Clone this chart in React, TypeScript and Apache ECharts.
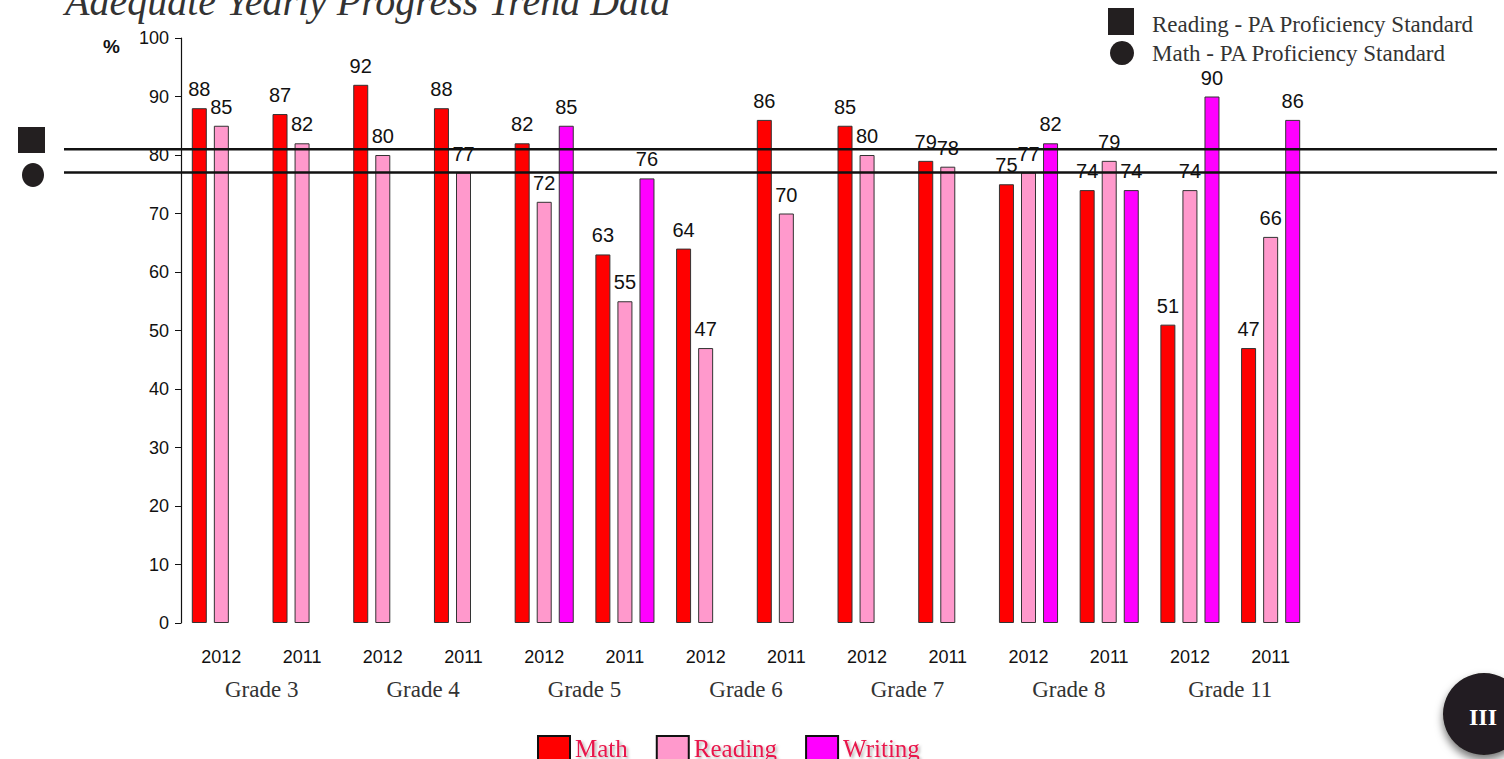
import React, { useEffect, useRef } from "react";
import * as echarts from "echarts";

const years = ["2012", "2011", "2012", "2011", "2012", "2011", "2012", "2011", "2012", "2011", "2012", "2011", "2012", "2011"];
const grades = ["Grade 3", "Grade 4", "Grade 5", "Grade 6", "Grade 7", "Grade 8", "Grade 11"];
const mathVals = [88, 87, 92, 88, 82, 63, 64, 86, 85, 79, 75, 74, 51, 47];
const readingVals = [85, 82, 80, 77, 72, 55, 47, 70, 80, 78, 77, 79, 74, 66];
const writingVals: (number | null)[] = [null, null, null, null, 85, 76, null, null, null, null, 82, 74, 90, 86];
const yTicks = { min: 0, max: 100, interval: 10 };
const readingStandard = 81;
const mathStandard = 77;

const SANS = "Liberation Sans, Arial, sans-serif";
const SERIF = "Liberation Serif, Times New Roman, serif";

export default function App() {
  const ref = useRef<HTMLDivElement>(null);
  useEffect(() => {
    if (!ref.current) return;
    const chart = echarts.init(ref.current, null, { renderer: "svg" });
    const label = {
      show: true,
      position: "top",
      distance: 9,
      fontSize: 20,
      color: "#111",
      fontFamily: SANS,
    };
    const bar = (name: string, data: (number | null)[], color: string) => ({
      name,
      type: "bar",
      data,
      barWidth: 15,
      barGap: "47%",
      itemStyle: { color, borderColor: "#333", borderWidth: 1 },
      label,
    });
    const option: any = {
      animation: false,
      backgroundColor: "#fff",
      grid: { left: 181, top: 38, width: 1130, height: 585, containLabel: false },
      xAxis: [
        {
          type: "category",
          data: years,
          axisLine: { show: false },
          axisTick: { show: false },
          axisLabel: { margin: 25, fontSize: 18, color: "#111", fontFamily: SANS, interval: 0 },
        },
        {
          type: "category",
          data: grades,
          position: "bottom",
          offset: 52,
          axisLine: { show: false },
          axisTick: { show: false },
          axisLabel: { margin: 3, fontSize: 23, color: "#333", fontFamily: SERIF, interval: 0 },
        },
      ],
      yAxis: {
        type: "value",
        min: yTicks.min,
        max: yTicks.max,
        interval: yTicks.interval,
        axisLine: { show: true, lineStyle: { color: "#111", width: 1.2 } },
        axisTick: { show: true, length: 6, lineStyle: { color: "#111" } },
        splitLine: { show: false },
        axisLabel: { margin: 12, fontSize: 18, color: "#111", fontFamily: SANS },
      },
      legend: {
        left: 532,
        top: 730,
        itemWidth: 32,
        itemHeight: 24,
        itemGap: 28,
        icon: "rect",
        textStyle: {
          fontSize: 25,
          color: "#e8194c",
          fontFamily: SERIF,
          textShadowColor: "rgba(0,0,0,0.3)",
          textShadowBlur: 3,
          textShadowOffsetX: 2,
          textShadowOffsetY: 2,
        },
        itemStyle: { borderColor: "#111", borderWidth: 2 },
        data: ["Math", "Reading", "Writing"],
      },
      series: [
        bar("Math", mathVals, "#ff0000"),
        bar("Reading", readingVals, "#ff99cc"),
        bar("Writing", writingVals, "#ff00ff"),
      ],
    };
    chart.setOption(option);

    const yR = chart.convertToPixel({ yAxisIndex: 0 }, readingStandard) as number;
    const yM = chart.convertToPixel({ yAxisIndex: 0 }, mathStandard) as number;

    chart.setOption({
      graphic: [
        {
          type: "text",
          left: 65,
          top: -19,
          style: {
            text: "Adequate Yearly Progress Trend Data",
            fontSize: 40,
            fontStyle: "italic",
            fontFamily: SERIF,
            fill: "#333",
          },
        },
        {
          type: "text",
          x: 103,
          y: 46,
          style: { text: "%", fontSize: 19, fontWeight: "bold", fontFamily: SANS, fill: "#111", verticalAlign: "middle" },
        },
        { type: "line", shape: { x1: 64, y1: yR, x2: 1497, y2: yR }, style: { stroke: "#111", lineWidth: 2.5 }, z: 10 },
        { type: "line", shape: { x1: 64, y1: yM, x2: 1497, y2: yM }, style: { stroke: "#111", lineWidth: 2.5 }, z: 10 },
        { type: "rect", shape: { x: 18, y: 127, width: 27, height: 26 }, style: { fill: "#231f20" } },
        { type: "ellipse", shape: { cx: 33, cy: 175, rx: 11, ry: 12 }, style: { fill: "#231f20" } },
        { type: "rect", shape: { x: 1108, y: 8, width: 26, height: 27 }, style: { fill: "#231f20" } },
        { type: "circle", shape: { cx: 1122, cy: 53, r: 12 }, style: { fill: "#231f20" } },
        {
          type: "text",
          x: 1152,
          y: 24,
          style: { text: "Reading - PA Proficiency Standard", fontSize: 23, fontFamily: SERIF, fill: "#333", verticalAlign: "middle" },
        },
        {
          type: "text",
          x: 1152,
          y: 53,
          style: { text: "Math - PA Proficiency Standard", fontSize: 23, fontFamily: SERIF, fill: "#333", verticalAlign: "middle" },
        },
        {
          type: "circle",
          shape: { cx: 1484, cy: 714, r: 41 },
          style: { fill: "#231f20", shadowBlur: 8, shadowOffsetY: 5, shadowColor: "rgba(0,0,0,0.55)" },
        },
        {
          type: "text",
          x: 1483,
          y: 717,
          style: { text: "III", fontSize: 24, fontWeight: "bold", fontFamily: SERIF, fill: "#fff", align: "center", verticalAlign: "middle" },
        },
      ],
    });

    return () => chart.dispose();
  }, []);
  return (
    <div
      ref={ref}
      style={{ position: "fixed", left: 0, top: 0, width: 1504, height: 759, overflow: "hidden" }}
    />
  );
}
